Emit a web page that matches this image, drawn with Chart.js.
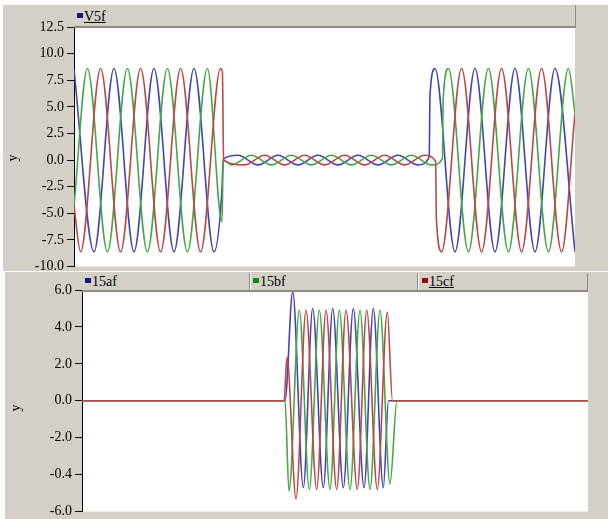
<!DOCTYPE html>
<html>
<head>
<meta charset="utf-8">
<script src="https://cdn.jsdelivr.net/npm/chart.js@4.4.0/dist/chart.umd.min.js"></script>
<style>
  html, body { margin: 0; padding: 0; }
  body { width: 608px; height: 519px; position: relative; overflow: hidden; background: #fff;
         font-family: "Liberation Serif", "DejaVu Serif", serif; }
  .panel { position: absolute; background: #d4d0c8; }
  canvas { position: absolute; left: 0; }
  .hdr { position: absolute; background: #d4d0c8; box-sizing: border-box;
         border-bottom: 2px solid #8e8b84; border-right: 1px solid #8e8b84; }
  .item { position: absolute; top: 1px; font-size: 14px; line-height: 16px; color: #000; white-space: nowrap; }
  .item i { display: inline-block; width: 6px; height: 5px; margin-right: 1px; vertical-align: 3px; }
  .sep { position: absolute; top: 0; bottom: 0; width: 1px; background: #8e8b84; border-right: 1px solid #fff; }
  .ytitle { position: absolute; font-size: 14px; color: #000; transform: rotate(-90deg); }
</style>
</head>
<body>
<div class="panel" style="left:3px;top:5px;width:605px;height:266px;"></div>
<div class="panel" style="left:5px;top:272px;width:603px;height:247px;"></div>

<canvas id="topChart" width="608" height="278" style="top:0"></canvas>
<canvas id="bottomChart" width="608" height="252" style="top:271px"></canvas>

<div class="hdr" style="left:74px;top:5px;width:502px;height:23px;">
  <span class="item" style="left:3px;top:4px;"><i style="background:#14148c"></i><u>V5f</u></span>
</div>
<div class="hdr" style="left:82px;top:273px;width:506px;height:19px;">
  <span class="item" style="left:3px;"><i style="background:#14148c"></i>15af</span>
  <span class="sep" style="left:167px;"></span>
  <span class="item" style="left:171px;"><i style="background:#0c8c0c"></i>15bf</span>
  <span class="sep" style="left:335px;"></span>
  <span class="item" style="left:340px;"><i style="background:#8c0c0c"></i><u>15cf</u></span>
</div>
<span class="ytitle" style="left:9px;top:150px;">y</span>
<span class="ytitle" style="left:12px;top:400px;">y</span>

<script>
// top chart: V5f, time in ms
const topBlueT = [0, 10, 20, 30, 40, 50, 60, 70, 74, 74.6, 82, 92, 102, 112, 122, 132, 142, 152, 162, 172, 177.6, 178, 180.5, 190.5, 200.5, 210.5, 220.5, 230.5, 240.5, 250.5];
const topBlueV = [8.5, -8.6, 8.6, -8.6, 8.6, -8.6, 8.6, -8.6, -2.7, 0.1, 0.45, -0.45, 0.45, -0.45, 0.45, -0.45, 0.45, -0.45, 0.45, -0.45, 0.3, 6.1, 8.6, -8.6, 8.6, -8.6, 8.6, -8.6, 8.6, -8.6];

const topGreenT = [0, 6.7, 16.7, 26.7, 36.7, 46.7, 56.7, 66.7, 74, 74.6, 78.7, 88.7, 98.7, 108.7, 118.7, 128.7, 138.7, 148.7, 158.7, 168.7, 178.7, 184.2, 184.6, 187.2, 197.2, 207.2, 217.2, 227.2, 237.2, 247.2, 250.5];
const topGreenV = [-4.3, 8.6, -8.6, 8.6, -8.6, 8.6, -8.6, 8.6, -5.8, 0, -0.45, 0.45, -0.45, 0.45, -0.45, 0.45, -0.45, 0.45, -0.45, 0.45, -0.45, 0.1, 5.7, 8.6, -8.6, 8.6, -8.6, 8.6, -8.6, 8.6, 4.4];

const topRedT = [0, 3.3, 13.3, 23.3, 33.3, 43.3, 53.3, 63.3, 73.3, 74.2, 74.8, 85.3, 95.3, 105.3, 115.3, 125.3, 135.3, 145.3, 155.3, 165.3, 175.3, 180.8, 181.2, 183.8, 193.8, 203.8, 213.8, 223.8, 233.8, 243.8, 250.5];
const topRedV = [-4.3, -8.6, 8.6, -8.6, 8.6, -8.6, 8.6, -8.6, 8.6, 8.3, 0, -0.45, 0.45, -0.45, 0.45, -0.45, 0.45, -0.45, 0.45, -0.45, 0.45, -0.1, -5.5, -8.6, 8.6, -8.6, 8.6, -8.6, 8.6, -8.6, 4.4];

const topTickVals = [-10, -7.5, -5, -2.5, 0, 2.5, 5, 7.5, 10, 12.5];
const topTickLabels = ['-10.0', '-7.5', '-5.0', '-2.5', '0.0', '2.5', '5.0', '7.5', '10.0', '12.5'];

// bottom chart: 15af / 15bf / 15cf
const botBlueT = [0, 203, 210.7, 221.3, 230.7, 241.3, 250.7, 261.3, 271.3, 282, 291.3, 301.3, 306.5, 506];
const botBlueV = [0, 0, 5.9, -4.7, 5.0, -4.7, 5.0, -4.7, 5.0, -4.7, 5.0, -4.7, 0, 0];

const botGreenT = [0, 203, 207, 217.3, 227.3, 237.3, 248, 257.3, 268, 278, 288, 298, 308, 315, 506];
const botGreenV = [0, 0, -4.9, 4.9, -4.8, 4.9, -4.8, 4.9, -4.8, 4.9, -4.8, 4.9, -4.5, 0, 0];

const botRedT = [0, 202, 205, 214, 224, 234.7, 244, 254.7, 264, 275.3, 284.7, 295.3, 305.3, 310.5, 506];
const botRedV = [0, 0, 2.35, -5.3, 4.9, -4.8, 4.9, -4.8, 4.9, -4.8, 4.9, -4.8, 4.8, 0, 0];

const botTickVals = [-6, -4, -2, 0, 2, 4, 6];
const botTickLabels = ['-6.0', '-0.4', '-2.0', '0.0', '2.0', '4.0', '6.0'];

const BLUE = '#4444b4', GREEN = '#44a844', RED = '#bc4848';
const FONT = { family: '"Liberation Serif", "DejaVu Serif", serif', size: 14 };

function pts(ts, vs) {
    return ts.map((t, i) => ({ x: t, y: vs[i] }));
}

// white plot background
const plotBg = {
    id: 'plotBg',
    beforeDraw(chart) {
        const { ctx, chartArea: a } = chart;
        ctx.save();
        ctx.fillStyle = '#fff';
        ctx.fillRect(a.left, a.top, a.right - a.left, a.bottom - a.top);
        ctx.restore();
    }
};

function series(label, ts, vs, color, order) {
    return {
        label: label,
        data: pts(ts, vs),
        borderColor: color,
        borderWidth: 1.6,
        pointRadius: 0,
        cubicInterpolationMode: 'monotone',
        fill: false,
        order: order
    };
}

function makeChart(id, datasets, xMax, yMin, yMax, tickVals, tickLabels, axisWidth, pad) {
    return new Chart(document.getElementById(id), {
        type: 'line',
        data: { datasets: datasets },
        plugins: [plotBg],
        options: {
            responsive: false,
            animation: false,
            events: [],
            layout: { padding: pad },
            scales: {
                x: { type: 'linear', min: 0, max: xMax, display: false },
                y: {
                    min: yMin,
                    max: yMax,
                    afterFit: (s) => { s.width = axisWidth; },
                    afterBuildTicks: (s) => { s.ticks = tickVals.map(v => ({ value: v })); },
                    ticks: {
                        font: FONT,
                        color: '#000',
                        padding: 3,
                        callback: (v) => tickLabels[tickVals.indexOf(v)]
                    },
                    grid: { drawOnChartArea: false, tickLength: 7, tickColor: '#000', color: '#000' },
                    border: { color: '#000', width: 1 }
                }
            },
            plugins: {
                legend: { display: false },
                tooltip: { enabled: false }
            }
        }
    });
}

makeChart('topChart', [
    series('V5f a', topBlueT, topBlueV, BLUE, 2),
    series('V5f b', topGreenT, topGreenV, GREEN, 1),
    series('V5f c', topRedT, topRedV, RED, 0)
], 250.5, -10, 12.5, topTickVals, topTickLabels, 74, { top: 27, right: 33, bottom: 9, left: 0 });

makeChart('bottomChart', [
    series('15af', botBlueT, botBlueV, BLUE, 2),
    series('15bf', botGreenT, botGreenV, GREEN, 1),
    series('15cf', botRedT, botRedV, RED, 0)
], 506, -6, 6, botTickVals, botTickLabels, 82, { top: 19, right: 20, bottom: 9, left: 0 });
</script>
</body>
</html>
